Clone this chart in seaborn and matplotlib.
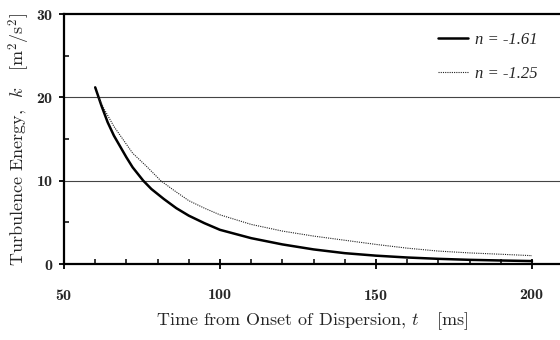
import matplotlib
matplotlib.use("Agg")
import matplotlib.pyplot as plt
from matplotlib.ticker import FixedLocator
import seaborn as sns
import pandas as pd

# Data
t_solid = [60, 62, 64, 66, 68, 70, 72, 75.4, 78, 82, 86, 90, 95, 100, 110, 120, 130,
           140, 150, 160, 170, 180, 190, 200]
k_solid = [21.2, 19.0, 17.0, 15.4, 14.1, 12.8, 11.6, 10.0, 9.0, 7.8, 6.7, 5.8, 4.9, 4.1,
           3.1, 2.35, 1.75, 1.3, 1.0, 0.78, 0.62, 0.5, 0.42, 0.35]
t_dot = [61, 63, 66, 69, 72, 76.5, 81, 85, 90, 95, 100, 110, 120, 130, 140, 150, 160,
         170, 180, 190, 200]
k_dot = [20.0, 18.5, 16.5, 14.9, 13.3, 11.7, 10.0, 8.9, 7.6, 6.7, 5.9, 4.75, 3.95, 3.35,
         2.85, 2.35, 1.9, 1.55, 1.33, 1.17, 1.0]
labels = ["n = -1.61", "n = -1.25"]
x_ticks = [50, 100, 150, 200]
y_ticks = [0, 10, 20, 30]

df = pd.concat([
    pd.DataFrame({"t": t_solid, "k": k_solid, "series": labels[0]}),
    pd.DataFrame({"t": t_dot, "k": k_dot, "series": labels[1]}),
])

sns.set_style("white")
plt.rcParams["mathtext.fontset"] = "cm"
plt.rcParams["font.family"] = ["cmr10", "DejaVu Serif"]
plt.rcParams["axes.formatter.use_mathtext"] = True

fig = plt.figure(figsize=(5.6, 3.4), dpi=100)
ax = fig.add_axes([64 / 560, 76 / 340, 1 - 64 / 560, 250 / 340])

sns.lineplot(data=df, x="t", y="k", hue="series", style="series",
             palette={labels[0]: "black", labels[1]: "#222222"},
             dashes={labels[0]: "", labels[1]: (1, 1)},
             ax=ax, legend=False, sort=False)
lines = ax.get_lines()
lines[0].set_linewidth(1.8)
lines[1].set_linewidth(0.8)

ax.set_xlim(50, 50 + (560 - 64) / 3.12)
ax.set_ylim(0, 30)

for yv in [10, 20]:
    ax.axhline(yv, color="#444444", lw=0.8, zorder=0)

ax.xaxis.set_major_locator(FixedLocator(x_ticks))
ax.xaxis.set_minor_locator(FixedLocator([v for v in range(60, 200, 10) if v not in x_ticks]))
ax.yaxis.set_major_locator(FixedLocator(y_ticks))
ax.yaxis.set_minor_locator(FixedLocator([5, 15, 25]))

ax.tick_params(axis="x", which="major", direction="inout", length=7, width=1.3,
               pad=14, labelsize=11.5, color="black")
ax.tick_params(axis="x", which="minor", direction="in", length=3.6, width=1.1, color="black")
ax.tick_params(axis="y", which="major", direction="out", length=3.5, width=1.3,
               pad=4, labelsize=11.5, color="black")
ax.tick_params(axis="y", which="minor", direction="in", length=3.6, width=1.1, color="black")
ax.tick_params(bottom=True, left=True, which="both")

for lab in ax.get_xticklabels() + ax.get_yticklabels():
    lab.set_fontfamily("cmb10")
    lab.set_fontweight("bold")

for s in ["left", "bottom", "top"]:
    ax.spines[s].set_visible(True)
    ax.spines[s].set_color("black")
    ax.spines[s].set_linewidth(1.6)
ax.spines["right"].set_visible(False)

ax.set_xlabel(r"Time from Onset of Dispersion, $t$   $[\mathrm{ms}]$", fontsize=13, labelpad=5)
ax.set_ylabel(r"Turbulence Energy,  $k$   $[\mathrm{m}^2/\mathrm{s}^2]$", fontsize=13, labelpad=3)

leg = ax.legend(lines, labels, loc="upper right", bbox_to_anchor=(0.985, 0.99),
                frameon=False, handlelength=1.8, handletextpad=0.4, labelspacing=1.1,
                prop={"family": "Liberation Serif", "style": "italic", "size": 12})

fig.savefig("out.png", dpi=100)
